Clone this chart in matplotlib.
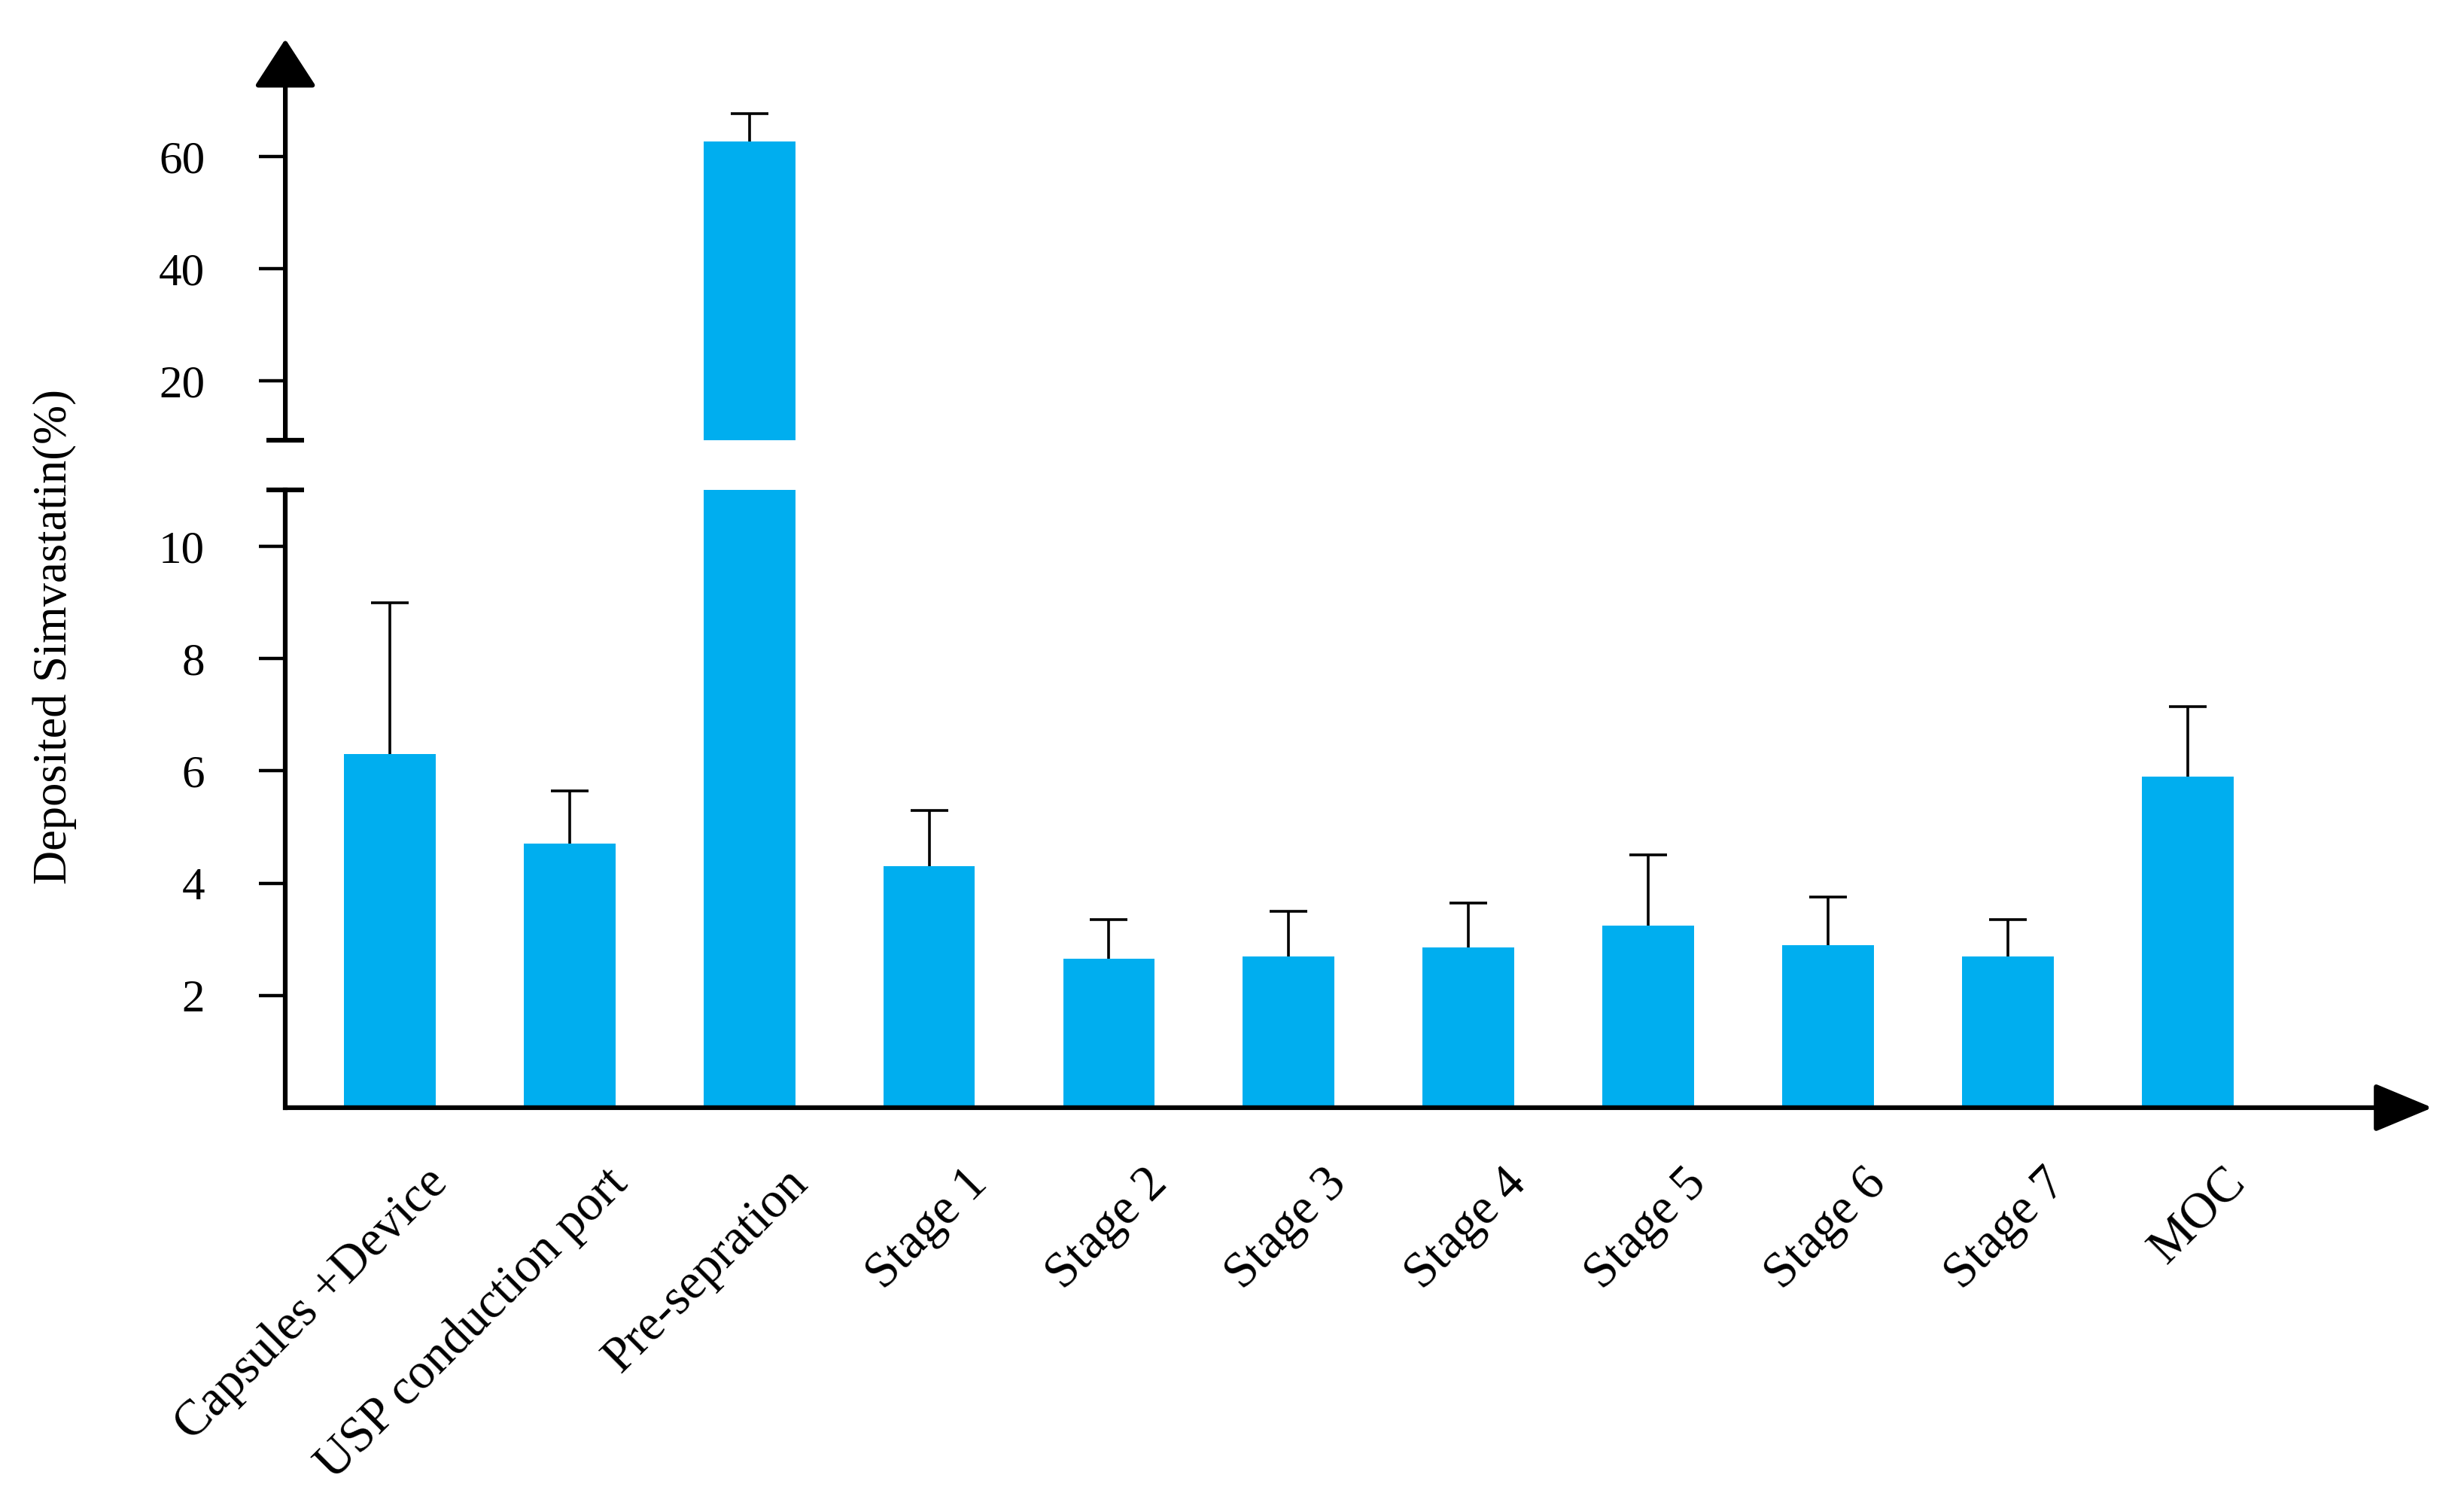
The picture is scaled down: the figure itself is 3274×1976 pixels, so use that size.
import matplotlib
matplotlib.use("Agg")
import matplotlib.pyplot as plt
import matplotlib.transforms as mtransforms
import numpy as np

categories = ["Capsules +Device", "USP conduction port", "Pre-sepration", "Stage 1",
              "Stage 2", "Stage 3", "Stage 4", "Stage 5", "Stage 6", "Stage 7", "MOC"]
deposited = [6.3, 4.7, 62.7, 4.3, 2.65, 2.7, 2.85, 3.25, 2.9, 2.7, 5.9]
err_up = [2.7, 0.95, 5.0, 1.0, 0.7, 0.8, 0.8, 1.25, 0.85, 0.65, 1.25]
low_ticks = [2, 4, 6, 8, 10]
high_ticks = [20, 40, 60]

plt.rcParams['font.family'] = ['Liberation Serif', 'DejaVu Serif']

bar_color = '#00AEEF'
axis_lw = 4.5

fig = plt.figure(figsize=(32.74, 19.76), dpi=100)
ax_lo = fig.add_axes([0.1158, 0.2551, 0.8714, 0.4152])
ax_hi = fig.add_axes([0.1158, 0.7041, 0.8714, 0.2696])

x = np.arange(len(categories))
xlim = (-0.58, 11.36)

for ax in (ax_lo, ax_hi):
    # errorbars sit behind the bars so only the upper half shows
    ax.errorbar(x, deposited, yerr=err_up, fmt='none', ecolor='black',
                elinewidth=2.6, capsize=18, capthick=2.6, zorder=1)
    ax.bar(x, deposited, width=0.51, color=bar_color, zorder=2)
    ax.set_xlim(*xlim)
    for s in ax.spines.values():
        s.set_visible(False)
    ax.patch.set_visible(False)

ax_lo.set_ylim(0, 11)
ax_hi.set_ylim(9.4, 81)

# lower part: plain left spine, arrow on x axis
ax_lo.spines['left'].set_visible(True)
ax_lo.spines['left'].set_linewidth(axis_lw)
ax_lo.annotate('', xy=(1, 0), xytext=(0, 0), xycoords='axes fraction',
               arrowprops=dict(arrowstyle='-|>,head_length=2.4,head_width=1.0',
                               mutation_scale=20, lw=axis_lw, color='black',
                               shrinkA=0, shrinkB=0))
# upper part: arrow on y axis
ax_hi.annotate('', xy=(0, 1), xytext=(0, 0), xycoords='axes fraction',
               arrowprops=dict(arrowstyle='-|>,head_length=2.0,head_width=1.3',
                               mutation_scale=20, lw=axis_lw, color='black',
                               shrinkA=0, shrinkB=0))

ax_lo.set_yticks(low_ticks)
ax_hi.set_yticks(high_ticks)
# break caps
ax_lo.set_yticks([11], minor=True)
ax_hi.set_yticks([9.4], minor=True)
for ax in (ax_lo, ax_hi):
    ax.tick_params(axis='y', which='major', direction='out', length=25, width=3.2,
                   pad=52, labelsize=44)
    ax.tick_params(axis='y', which='minor', direction='inout', length=36, width=axis_lw)
    ax.yaxis.set_minor_formatter(plt.NullFormatter())

ax_hi.set_xticks([])
ax_lo.set_xticks(x)
ax_lo.set_xticklabels(categories, rotation=45, ha='right', rotation_mode='anchor',
                      fontsize=48)
ax_lo.tick_params(axis='x', length=0, pad=50)
offset = mtransforms.ScaledTranslation(0.46, 0, fig.dpi_scale_trans)
for lab in ax_lo.get_xticklabels():
    lab.set_transform(lab.get_transform() + offset)

fig.text(0.0223, 0.572, 'Deposited Simvastatin(%)', rotation=90, fontsize=45,
         ha='center', va='center')

fig.savefig('out.png', dpi=100, facecolor='white')
